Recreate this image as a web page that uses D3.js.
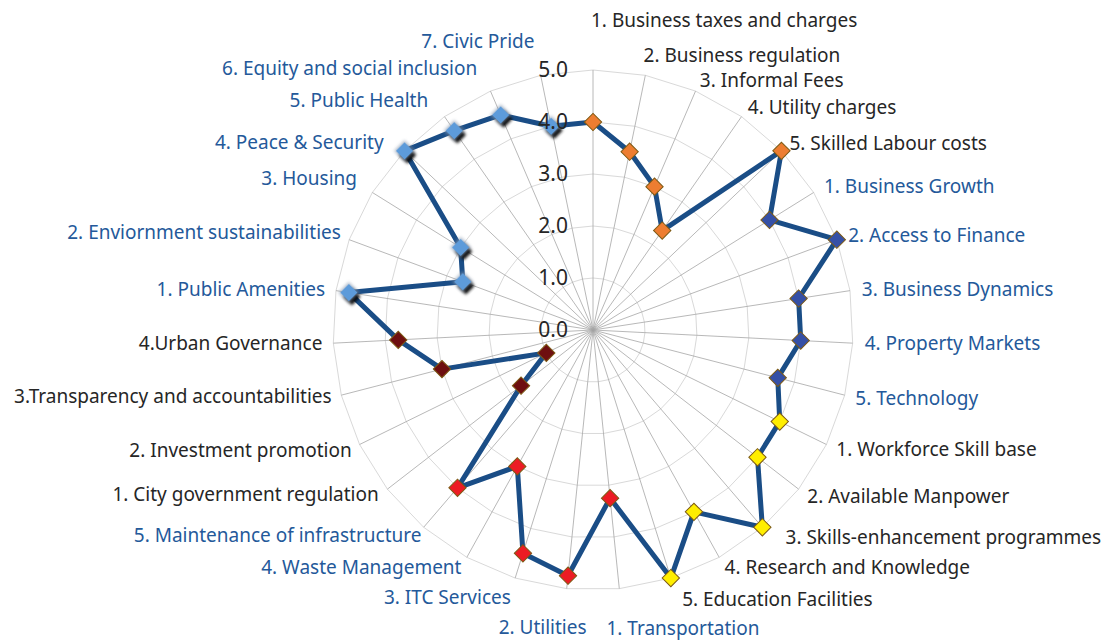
<!DOCTYPE html>
<html>
<head>
    <meta charset="utf-8">
    <script src="https://d3js.org/d3.v7.min.js"></script>
    <style>
        body { margin: 0; background: #fff; }
        svg { display: block; font-family: "Noto Sans", "Open Sans", sans-serif; }
    </style>
</head>
<body>
    <div id="app"></div>
</body>
<script>
    // category names per group (radar goes clockwise from the top)
    const costLabels = ["1. Business taxes and charges", "2. Business regulation", "3. Informal Fees",
        "4. Utility charges", "5. Skilled Labour costs"];
    const businessLabels = ["1. Business Growth", "2. Access to Finance", "3. Business Dynamics",
        "4. Property Markets", "5.  Technology"];
    const workforceLabels = ["1. Workforce Skill base", "2. Available Manpower", "3. Skills-enhancement programmes",
        "4. Research and Knowledge", "5. Education Facilities"];
    const infraLabels = ["1. Transportation", "2. Utilities", "3. ITC Services", "4. Waste Management",
        "5. Maintenance of infrastructure"];
    const governLabels = ["1. City government regulation", "2. Investment promotion",
        "3.Transparency and accountabilities", "4.Urban Governance"];
    const socialLabels = ["1. Public Amenities", "2. Enviornment sustainabilities", "3. Housing",
        "4. Peace & Security", "5. Public Health", "6. Equity and social inclusion", "7. Civic Pride"];

    // scores
    const costValues = [4.0, 3.5, 3.0, 2.33, 5.0];
    const businessValues = [4.0, 5.0, 4.0, 4.0, 3.67];
    const workforceValues = [4.0, 4.0, 5.0, 4.0, 5.0];
    const infraValues = [3.25, 4.75, 4.5, 3.0, 4.0];
    const governValues = [1.75, 1.0, 3.0, 3.75];
    const socialValues = [4.75, 2.67, 3.0, 5.0, 4.67, 4.5, 4.0];

    const tickValues = [0, 1, 2, 3, 4, 5];

    // look of each group: marker fill, label colour
    const groupStyle = [
        { fill: "#ed7d31", text: "#262626" },
        { fill: "#3550a6", text: "#24599a" },
        { fill: "#ffee00", text: "#262626" },
        { fill: "#ec1c24", text: "#24599a" },
        { fill: "#6e0f10", text: "#262626" },
        { fill: "#5d9bda", text: "#24599a", glow: true }
    ];

    const groupLabels = [costLabels, businessLabels, workforceLabels, infraLabels, governLabels, socialLabels];
    const groupValues = [costValues, businessValues, workforceValues, infraValues, governValues, socialValues];

    let rows = [];
    groupLabels.forEach((labels, g) => {
        labels.forEach((name, k) => rows.push({ name: name, value: groupValues[g][k], group: g }));
    });
    rows.forEach((d, i) => d.i = i);
    const n = rows.length;

    // small hand nudges so the category labels sit where Excel put them
    const labelNudge = [[-2, -39], [-4, -9], [0, -1], [0, 0], [0, 0], [1, 0], [1, -1], [1, 0], [1, 0], [0, 0],
        [0, 0], [0, 0], [16, 2], [0, 0], [8, 11], [-14, 29], [21, 28], [-1, 9], [0, 0], [5, 0],
        [0, -2], [2, 1], [1, -2], [0, 0], [0, 0], [2, -4], [-6, -8], [-13, -1], [-10, -7], [-9, -13], [-4, -23]];

    const width = 1112, height = 642;
    const cx = 593, cy = 330, R = 260;

    const svg = d3.select("#app").append("svg")
        .attr("width", width)
        .attr("height", height);

    const defs = svg.append("defs");
    defs.append("filter").attr("id", "soft")
        .attr("x", "-50%").attr("y", "-50%").attr("width", "200%").attr("height", "200%")
        .append("feGaussianBlur").attr("stdDeviation", 1.4);
    defs.append("filter").attr("id", "edge")
        .attr("x", "-50%").attr("y", "-50%").attr("width", "200%").attr("height", "200%")
        .append("feGaussianBlur").attr("stdDeviation", 0.7);

    const r = d3.scaleLinear().domain([0, 5]).range([0, R]);
    const angle = d3.scaleLinear().domain([0, n]).range([0, 2 * Math.PI]);

    const px = (i, v) => cx + r(v) * Math.sin(angle(i));
    const py = (i, v) => cy - r(v) * Math.cos(angle(i));

    const g = svg.append("g");

    // rings (polygons)
    const ring = d3.lineRadial()
        .angle(d => angle(d))
        .curve(d3.curveLinearClosed);
    g.selectAll(".ring")
        .data(tickValues.filter(t => t > 0))
        .enter().append("path")
        .attr("class", "ring")
        .attr("transform", `translate(${cx},${cy})`)
        .attr("d", t => ring.radius(r(t))(d3.range(n)))
        .attr("fill", "none")
        .attr("stroke", "#d9d9d9")
        .attr("stroke-width", 1);

    // spokes
    g.selectAll(".spoke")
        .data(rows)
        .enter().append("line")
        .attr("class", "spoke")
        .attr("x1", cx).attr("y1", cy)
        .attr("x2", d => px(d.i, 5))
        .attr("y2", d => py(d.i, 5))
        .attr("stroke", "#a6a6a6")
        .attr("stroke-width", 0.8);

    // the series line
    const line = d3.lineRadial()
        .angle(d => angle(d.i))
        .radius(d => r(d.value))
        .curve(d3.curveLinearClosed);
    g.append("path")
        .attr("transform", `translate(${cx},${cy})`)
        .attr("d", line(rows))
        .attr("fill", "none")
        .attr("stroke", "#1a4d86")
        .attr("stroke-width", 5)
        .attr("stroke-linejoin", "round");

    // markers
    const diamond = d3.symbol().type(d3.symbolSquare).size(150);
    const marks = g.selectAll(".mark")
        .data(rows)
        .enter().append("g")
        .attr("class", "mark")
        .attr("transform", d => `translate(${px(d.i, d.value)},${py(d.i, d.value)})`);

    marks.filter(d => groupStyle[d.group].glow)
        .append("path")
        .attr("d", diamond)
        .attr("transform", "translate(3,4) rotate(45)")
        .attr("fill", "#000")
        .attr("filter", "url(#soft)");
    marks.filter(d => groupStyle[d.group].glow)
        .append("path")
        .attr("d", d3.symbol().type(d3.symbolSquare).size(230))
        .attr("transform", "rotate(45)")
        .attr("fill", "#8a9aae")
        .attr("opacity", 0.6)
        .attr("filter", "url(#soft)");

    marks.append("path")
        .attr("d", diamond)
        .attr("transform", "rotate(45)")
        .attr("fill", d => groupStyle[d.group].fill)
        .attr("stroke", d => groupStyle[d.group].glow ? "none" : "#7d5a14")
        .attr("stroke-width", 1)
        .attr("filter", d => groupStyle[d.group].glow ? "url(#edge)" : null);

    // value axis labels
    g.selectAll(".tick")
        .data(tickValues)
        .enter().append("text")
        .attr("class", "tick")
        .attr("x", cx - 25)
        .attr("y", t => cy - r(t))
        .attr("dy", "0.35em")
        .attr("text-anchor", "end")
        .attr("font-size", 21)
        .attr("fill", "#262626")
        .text(d3.format(".1f"));

    // category labels
    g.selectAll(".cat")
        .data(rows)
        .enter().append("text")
        .attr("class", "cat")
        .attr("x", d => cx + (R + 11) * Math.sin(angle(d.i)) + labelNudge[d.i][0])
        .attr("y", d => cy - (R + 11) * Math.cos(angle(d.i)) + labelNudge[d.i][1])
        .attr("dy", "0.35em")
        .attr("text-anchor", d => d.i <= 15 ? "start" : "end")
        .attr("font-size", 19)
        .attr("fill", d => groupStyle[d.group].text)
        .text(d => d.name);
</script>
</html>
